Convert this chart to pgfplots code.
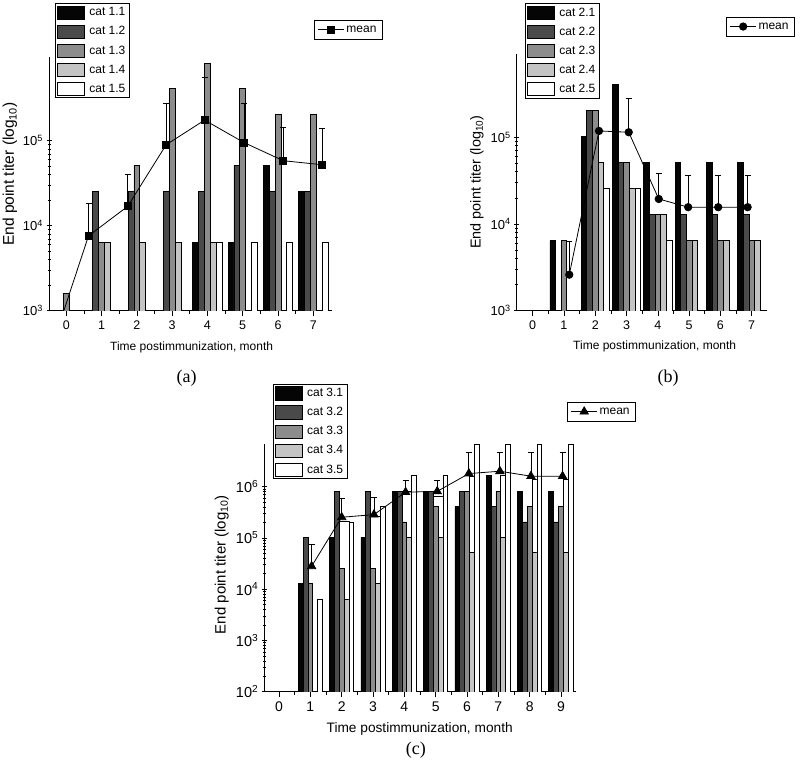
\documentclass[border=0pt]{standalone}
\usepackage{pgfplots}
\pgfplotsset{compat=1.18}
\usepackage{fontspec}
\setmainfont{Liberation Sans}
\newfontfamily\seriffont{Liberation Serif}
\definecolor{g1}{gray}{0.02}
\definecolor{g2}{gray}{0.29}
\definecolor{g3}{gray}{0.55}
\definecolor{g4}{gray}{0.77}
\definecolor{g5}{gray}{1.0}
\pgfplotsset{
  barpanel/.style={
    scale only axis, anchor=south west,
    /pgf/number format/assume math mode=true,
    axis x line*=bottom, axis y line*=left,
    axis line style={-, line width=0.8pt},
    minor x tick num=1,
    xtick align=outside, ytick align=center,
    major tick length=5pt, minor tick length=3pt,
    tick style={black, line width=0.6pt},
    every axis plot/.append style={line width=0.7pt},
    legend cell align=left,
    legend style={anchor=north west, draw=black, line width=0.6pt, row sep=5.2pt, column sep=2.5pt, inner sep=2pt, fill=white},
  },
  meanpanel/.style={
    scale only axis, anchor=south west, hide axis,
    legend style={anchor=north west, draw=black, line width=0.6pt, inner sep=3.5pt, fill=white},
  },
  errb/.style={error bars/.cd, y dir=plus, y explicit, error bar style={line width=0.8pt}, error mark options={rotate=90, mark size=3pt, line width=0.8pt}},
}
\begin{document}
\begin{tikzpicture}[x=1pt,y=1pt]
\path[use as bounding box] (0,0) rectangle (800,767);
% ---------------- (a)
\begin{semilogyaxis}[barpanel, at={(49pt,456.3pt)}, width=283pt, height=253.4pt,
  xmin=-0.49, xmax=7.53, ymin=1000, ymax=9.6e5, xtick={0,...,7},
  ytick={1e3,1e4,1e5}, yticklabels={10\textsuperscript{3},10\textsuperscript{4},10\textsuperscript{5}},
  xticklabel style={font=\fontsize{12.5}{14}\selectfont, yshift=-1.5pt},
  yticklabel style={font=\fontsize{13}{14}\selectfont},
  xlabel={Time postimmunization, month}, ylabel={End point titer (log\textsubscript{10})},
  xlabel style={at={(axis description cs:0.504,-0.143)}, anchor=center, font=\fontsize{12}{14}\selectfont},
  ylabel style={at={(axis description cs:-0.138,0.539)}, anchor=center, font=\fontsize{15.5}{17}\selectfont},
  legend style={at={(axis description cs:0.021,1.213)}, font=\fontsize{12}{14}\selectfont},
  legend image code/.code={\draw[#1, line width=0.6pt] (0pt,-6.6pt) rectangle (27pt,6.6pt);},
]
\addplot[ybar, bar width=0.166, bar shift=-0.332, fill=g1, draw=black] coordinates {(4,6400) (5,6400) (6,51200) (7,25600)};
\addplot[ybar, bar width=0.166, bar shift=-0.166, fill=g2, draw=black] coordinates {(1,25600) (2,25600) (3,25600) (4,25600) (5,51200) (6,25600) (7,25600)};
\addplot[ybar, bar width=0.166, bar shift=0, fill=g3, draw=black] coordinates {(0,1600) (1,6400) (2,51200) (3,409600) (4,819200) (5,409600) (6,204800) (7,204800)};
\addplot[ybar, bar width=0.166, bar shift=0.166, fill=g4, draw=black] coordinates {(1,6400) (2,6400) (3,6400) (4,6400)};
\addplot[ybar, bar width=0.166, bar shift=0.332, fill=g5, draw=black] coordinates {(4,6400) (5,6400) (6,6400) (7,6400)};
\legend{cat 1.1,cat 1.2,cat 1.3,cat 1.4,cat 1.5}
\end{semilogyaxis}
\begin{semilogyaxis}[meanpanel, at={(49pt,456.3pt)}, width=283pt, height=253.4pt,
  xmin=-0.49, xmax=7.53, ymin=1000, ymax=9.6e5,
  legend style={at={(axis description cs:0.936,1.147)}, font=\fontsize{12}{14}\selectfont},
  legend image code/.code={\draw[mark repeat=2, mark phase=2, #1] plot coordinates {(0pt,0pt) (13pt,0pt) (26pt,0pt)};}]
\addplot[black, line width=0.8pt, forget plot] coordinates {(-0.07,1000) (0.63,7600)};
\addplot[black, line width=0.8pt, mark=square*, mark size=3.5pt, errb] coordinates {
 (0.63,7600) +- (0,10900)
 (1.74,16900) +- (0,22900)
 (2.83,89700) +- (0,187000)
 (3.92,175000) +- (0,381000)
 (5.04,95000) +- (0,182000)
 (6.15,58200) +- (0,85800)
 (7.25,52200) +- (0,87800)};
\addlegendentry{mean}
\end{semilogyaxis}
% ---------------- (b)
\begin{semilogyaxis}[barpanel, at={(516.7pt,456.3pt)}, width=250pt, height=256.7pt,
  xmin=-0.51, xmax=7.48, ymin=1000, ymax=9.1e5, xtick={0,...,7},
  ytick={1e3,1e4,1e5}, yticklabels={10\textsuperscript{3},10\textsuperscript{4},10\textsuperscript{5}},
  xticklabel style={font=\fontsize{12.5}{14}\selectfont, yshift=-1.5pt},
  yticklabel style={font=\fontsize{13}{14}\selectfont},
  xlabel={Time postimmunization, month}, ylabel={End point titer (log\textsubscript{10})},
  xlabel style={at={(axis description cs:0.552,-0.141)}, anchor=center, font=\fontsize{12}{14}\selectfont},
  ylabel style={at={(axis description cs:-0.159,0.501)}, anchor=center, font=\fontsize{14.4}{16}\selectfont},
  legend style={at={(axis description cs:0.033,1.197)}, font=\fontsize{12}{14}\selectfont},
  legend image code/.code={\draw[#1, line width=0.6pt] (0pt,-6.6pt) rectangle (27pt,6.6pt);},
]
\addplot[ybar, bar width=0.18, bar shift=-0.36, fill=g1, draw=black] coordinates {(1,6400) (2,102400) (3,409600) (4,51200) (5,51200) (6,51200) (7,51200)};
\addplot[ybar, bar width=0.18, bar shift=-0.18, fill=g2, draw=black] coordinates {(2,204800) (3,51200) (4,12800) (5,12800) (6,12800) (7,12800)};
\addplot[ybar, bar width=0.18, bar shift=0, fill=g3, draw=black] coordinates {(1,6400) (2,204800) (3,51200) (4,12800) (5,6400) (6,6400) (7,6400)};
\addplot[ybar, bar width=0.18, bar shift=0.18, fill=g4, draw=black] coordinates {(2,51200) (3,25600) (4,12800) (5,6400) (6,6400) (7,6400)};
\addplot[ybar, bar width=0.18, bar shift=0.36, fill=g5, draw=black] coordinates {(2,25600) (3,25600) (4,6400)};
\legend{cat 2.1,cat 2.2,cat 2.3,cat 2.4,cat 2.5}
\end{semilogyaxis}
\begin{semilogyaxis}[meanpanel, at={(516.7pt,456.3pt)}, width=250pt, height=256.7pt,
  xmin=-0.51, xmax=7.48, ymin=1000, ymax=9.1e5,
  legend style={at={(axis description cs:0.837,1.145)}, font=\fontsize{12}{14}\selectfont},
  legend image code/.code={\draw[mark repeat=2, mark phase=2, #1] plot coordinates {(0pt,0pt) (13pt,0pt) (26pt,0pt)};}]
\addplot[black, line width=0.8pt, mark=*, mark size=3.7pt, errb] coordinates {
 (1.17,2600) +- (0,3700)
 (2.12,118000) +- (0,0)
 (3.07,114000) +- (0,168000)
 (4.03,19400) +- (0,18600)
 (4.97,15600) +- (0,20400)
 (5.93,15600) +- (0,20400)
 (6.87,15600) +- (0,20400)};
\addlegendentry{mean}
\end{semilogyaxis}
% ---------------- (c)
\begin{semilogyaxis}[barpanel, at={(264.3pt,75.3pt)}, width=311.4pt, height=247.7pt,
  xmin=-0.47, xmax=9.47, ymin=100, ymax=6.8e6, xtick={0,...,9},
  ytick={1e2,1e3,1e4,1e5,1e6}, yticklabels={10\textsuperscript{2},10\textsuperscript{3},10\textsuperscript{4},10\textsuperscript{5},10\textsuperscript{6}},
  xticklabel style={font=\fontsize{14}{16}\selectfont, yshift=-1.5pt},
  yticklabel style={font=\fontsize{14.5}{16}\selectfont},
  xlabel={Time postimmunization, month}, ylabel={End point titer (log\textsubscript{10})},
  xlabel style={at={(axis description cs:0.499,-0.151)}, anchor=center, font=\fontsize{13.7}{16}\selectfont},
  ylabel style={at={(axis description cs:-0.137,0.513)}, anchor=center, font=\fontsize{15}{17}\selectfont},
  legend style={at={(axis description cs:0.027,1.242)}, font=\fontsize{12}{14}\selectfont},
  legend image code/.code={\draw[#1, line width=0.6pt] (0pt,-6.6pt) rectangle (27pt,6.6pt);},
]
\addplot[ybar, bar width=0.31, bar shift=0.0775, fill=white, draw=black, forget plot] coordinates {(2,207000) (3,260000) (4,800000) (5,640000)};
\addplot[ybar, bar width=0.155, bar shift=0.155, fill=white, draw=black, forget plot] coordinates {(6,1600000) (7,1700000) (8,1400000) (9,1400000)};
\addplot[ybar, bar width=0.155, bar shift=-0.31, fill=g1, draw=black] coordinates {(1,12800) (2,102400) (3,102400) (4,819200) (5,819200) (6,409600) (7,1638400) (8,819200) (9,819200)};
\addplot[ybar, bar width=0.155, bar shift=-0.155, fill=g2, draw=black] coordinates {(1,102400) (2,819200) (3,819200) (4,819200) (5,819200) (6,819200) (7,409600) (8,204800) (9,204800)};
\addplot[ybar, bar width=0.155, bar shift=0, fill=g3, draw=black] coordinates {(1,12800) (2,25600) (3,25600) (4,204800) (5,409600) (6,819200) (7,819200) (8,409600) (9,409600)};
\addplot[ybar, bar width=0.155, bar shift=0.155, fill=g4, draw=black] coordinates {(2,6400) (3,12800) (4,102400) (5,102400) (6,51200) (7,102400) (8,51200) (9,51200)};
\addplot[ybar, bar width=0.155, bar shift=0.31, fill=g5, draw=black] coordinates {(1,6400) (2,204800) (3,409600) (4,1638400) (5,1638400) (6,6553600) (7,6553600) (8,6553600) (9,6553600)};
\legend{cat 3.1,cat 3.2,cat 3.3,cat 3.4,cat 3.5}
\end{semilogyaxis}
\begin{semilogyaxis}[meanpanel, at={(264.3pt,75.3pt)}, width=311.4pt, height=247.7pt,
  xmin=-0.47, xmax=9.47, ymin=100, ymax=6.8e6,
  legend style={at={(axis description cs:0.972,1.17)}, font=\fontsize{12}{14}\selectfont},
  legend image code/.code={\draw[mark repeat=2, mark phase=2, #1] plot coordinates {(0pt,0pt) (13pt,0pt) (26pt,0pt)};}]
\addplot[black, line width=0.8pt, mark=triangle*, mark size=4.8pt, errb] coordinates {
 (1.04,28000) +- (0,46000)
 (2.0,253000) +- (0,337000)
 (3.03,285000) +- (0,335000)
 (4.04,780000) +- (0,570000)
 (5.05,810000) +- (0,540000)
 (6.06,1800000) +- (0,2800000)
 (7.05,2000000) +- (0,2600000)
 (8.04,1600000) +- (0,3000000)
 (9.05,1600000) +- (0,3000000)};
\addlegendentry{mean}
\end{semilogyaxis}
\node[font=\seriffont\fontsize{18}{20}\selectfont] at (186.7pt,389pt) {(a)};
\node[font=\seriffont\fontsize{18}{20}\selectfont] at (668pt,389pt) {(b)};
\node[font=\seriffont\fontsize{18}{20}\selectfont] at (415.8pt,17pt) {(c)};
\end{tikzpicture}
\end{document}
